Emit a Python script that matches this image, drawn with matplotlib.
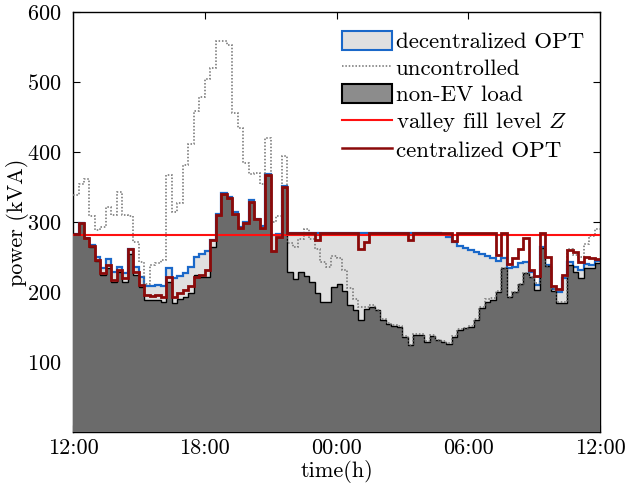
import numpy as np
import matplotlib
matplotlib.use('Agg')
import matplotlib.pyplot as plt
from matplotlib.patches import Patch
from matplotlib.lines import Line2D
from matplotlib import rcParams

rcParams['font.family'] = 'cmr10'
rcParams['mathtext.fontset'] = 'cm'
rcParams['axes.formatter.use_mathtext'] = True
rcParams['font.size'] = 16

# 15-min load profile, 12:00 -> 12:00 (kVA)
non_ev = [283, 298, 277, 265, 244, 224, 235, 215, 229, 214, 255, 224, 207, 189, 188, 189,
          186, 215, 184, 190, 193, 198, 224, 221, 222, 264, 310, 340, 334, 312, 291, 298,
          329, 304, 292, 367, 259, 279, 350, 228, 218, 228, 223, 215, 198, 186, 186, 207,
          212, 202, 181, 174, 160, 176, 179, 174, 160, 155, 152, 150, 136, 124, 139, 139,
          129, 137, 131, 129, 126, 136, 146, 148, 150, 160, 177, 186, 189, 200, 235, 193,
          200, 212, 227, 222, 203, 263, 237, 202, 184, 185, 239, 229, 220, 234, 235, 241]

decentral = [283, 298, 277, 267, 250, 235, 247, 229, 236, 227, 261, 236, 222, 209, 208, 210,
             209, 234, 220, 223, 227, 236, 250, 255, 258, 274, 312, 342, 336, 314, 293, 300,
             331, 305, 294, 368, 282, 283, 352, 284, 284, 284, 284, 284, 284, 284, 284, 284,
             284, 285, 285, 285, 285, 285, 285, 285, 285, 285, 285, 285, 285, 285, 285, 285,
             285, 285, 284, 283, 279, 272, 266, 263, 260, 257, 255, 252, 248, 244, 248, 234,
             236, 241, 243, 228, 210, 264, 239, 205, 200, 220, 243, 236, 232, 240, 239, 244]

central = [283, 298, 277, 266, 246, 227, 239, 217, 232, 220, 261, 228, 210, 196, 195, 196,
           193, 222, 193, 198, 203, 208, 222, 224, 231, 274, 310, 340, 334, 312, 291, 298,
           329, 304, 292, 367, 259, 279, 350, 284, 284, 284, 284, 284, 275, 284, 284, 284,
           284, 284, 284, 284, 262, 272, 284, 284, 284, 284, 284, 284, 284, 275, 284, 284,
           284, 284, 284, 284, 284, 273, 284, 284, 284, 284, 284, 284, 284, 253, 284, 240,
           248, 261, 277, 231, 223, 284, 250, 208, 205, 225, 260, 257, 243, 250, 248, 247]

uncontrolled = [339, 355, 361, 308, 289, 293, 322, 310, 343, 310, 308, 272, 243, 212, 238, 241,
                246, 367, 315, 327, 381, 412, 458, 479, 505, 520, 558, 559, 553, 456, 434, 384,
                369, 370, 355, 420, 300, 308, 394, 270, 265, 276, 290, 276, 262, 243, 236, 252,
                248, 232, 206, 190, 178, 178, 181, 175, 161, 156, 153, 151, 137, 125, 140, 140,
                130, 138, 132, 130, 127, 137, 147, 149, 151, 161, 178, 190, 192, 202, 235, 193,
                200, 212, 227, 222, 213, 263, 237, 205, 186, 186, 261, 253, 250, 268, 280, 290]

valley_Z = 281

tick_hours = [0, 6, 12, 18, 24]
tick_labels = ['12:00', '18:00', '00:00', '06:00', '12:00']

edges = np.arange(len(non_ev) + 1) * 0.25

c_blue = '#1a68c9'
c_dark = '#6b6b6b'
c_light = '#e0e0e0'
c_dred = '#8b0a0a'
c_dot = '#707070'

fig = plt.figure(figsize=(6.36, 4.86), dpi=100)
ax = fig.add_axes([0.1148, 0.1111, 0.8286, 0.8642])

# decentralized OPT (light area with blue edge)
ax.stairs(decentral, edges, baseline=0, fill=True, color=c_light, zorder=1)
ax.stairs(decentral, edges, baseline=None, color=c_blue, linewidth=1.6, zorder=2)

# non-EV load (dark area with black edge)
ax.stairs(non_ev, edges, baseline=0, fill=True, color=c_dark, zorder=3)
ax.stairs(non_ev, edges, baseline=None, color='black', linewidth=1.0, zorder=4)

# uncontrolled
ax.stairs(uncontrolled, edges, baseline=None, color=c_dot, linewidth=1.1,
          linestyle=(0, (1, 1.2)), zorder=5)

# valley fill level
ax.axhline(valley_Z, color='#ff1010', linewidth=1.5, zorder=6)

# centralized OPT
ax.stairs(central, edges, baseline=None, color=c_dred, linewidth=2.0, zorder=7)

ax.set_xlim(0, 24)
ax.set_ylim(0, 600)
ax.set_xticks(tick_hours)
ax.set_xticklabels(tick_labels)
ax.set_yticks([100, 200, 300, 400, 500, 600])
ax.tick_params(direction='in', length=5, width=0.8, top=True, right=True)
ax.tick_params(axis='y', pad=8)
ax.tick_params(axis='x', pad=5)
for s in ax.spines.values():
    s.set_linewidth(1.0)

ax.set_xlabel('time(h)', labelpad=1)
ax.set_ylabel('power (kVA)', labelpad=-1)

handles = [
    Patch(facecolor=c_light, edgecolor=c_blue, linewidth=1.5),
    Line2D([0], [0], color=c_dot, linewidth=1.1, linestyle=(0, (1, 1.2))),
    Patch(facecolor='#8c8c8c', edgecolor='black', linewidth=1.5),
    Line2D([0], [0], color='#ff1010', linewidth=1.5),
    Line2D([0], [0], color=c_dred, linewidth=1.8),
]
labels = ['decentralized OPT', 'uncontrolled', 'non-EV load',
          'valley fill level $Z$', 'centralized OPT']
ax.legend(handles, labels, loc='upper right', bbox_to_anchor=(1.0, 0.993),
          frameon=False, handlelength=2.2, handleheight=0.9, handletextpad=0.15,
          labelspacing=0.22, borderpad=0.2, fontsize=16.5)

fig.savefig('out.png', dpi=100)
